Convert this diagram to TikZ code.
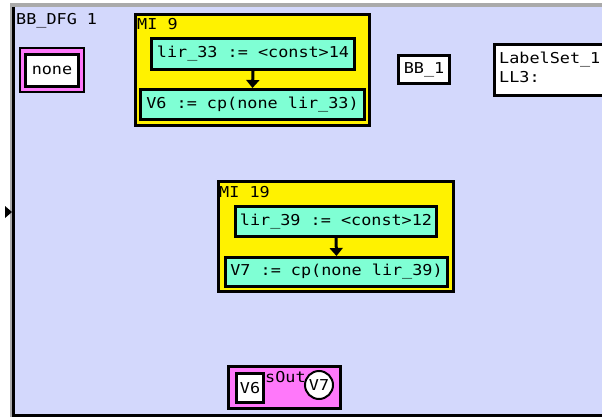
\documentclass[tikz,border=0pt]{standalone}
\usepackage{fontspec}
\setmonofont[FakeStretch=1.12]{DejaVu Sans Mono}
\usetikzlibrary{arrows.meta}
\definecolor{bgblue}{RGB}{211,216,252}
\definecolor{mipink}{RGB}{255,120,250}
\definecolor{aqua}{RGB}{127,255,212}
\definecolor{framegray}{RGB}{170,170,170}
\tikzset{
  txt/.style={font=\ttfamily\fontsize{15}{18}\selectfont, inner sep=0pt},
  mibox/.style={draw=black, fill=yellow, line width=3pt, inner sep=0pt},
  instbox/.style={draw=black, fill=aqua, line width=3pt, inner sep=0pt, font=\ttfamily\fontsize{15}{18}\selectfont},
  whitebox/.style={draw=black, fill=white, line width=3pt, inner sep=0pt, font=\ttfamily\fontsize{15}{18}\selectfont},
  pinkbox/.style={draw=black, fill=mipink, line width=2.5pt, inner sep=0pt},
  dep/.style={line width=3pt, -{Triangle[width=13pt,length=8pt]}}
}
\begin{document}
\begin{tikzpicture}[x=1pt,y=-1pt]
\useasboundingbox (0,0) rectangle (602,417);
\clip (0,0) rectangle (602,417);
% outer frame
\fill[bgblue] (12,5) rectangle (610,415);
\draw[framegray, line width=4pt] (10,5) -- (610,5);
\draw[framegray, line width=2pt] (11,3) -- (11,417);
\draw[black, line width=3pt] (13.5,7) -- (13.5,417);
\draw[black, line width=3pt] (12,415.5) -- (610,415.5);
\fill[black] (5,206) -- (12,212) -- (5,218) -- cycle;
\node[txt, anchor=base west] (title) at (16,25) {BB\_DFG 1};

% top-left pink box
\node[pinkbox, minimum width=64pt, minimum height=44pt] (inpink) at (52,70) {};
\node[whitebox, minimum width=53pt, minimum height=32pt] (none) at (52,70.5) {none};

% MI 9
\node[mibox, minimum width=234pt, minimum height=111pt] (mi9) at (252.5,70) {};
\node[txt, anchor=base west] (mi9lbl) at (137,30) {MI 9};
\node[instbox, minimum width=203pt, minimum height=31pt] (lir33) at (253,54) {lir\_33 := <const>14};
\node[instbox, minimum width=224pt, minimum height=30pt] (v6cp) at (252.5,104.5) {V6 := cp(none lir\_33)};
\draw[dep] (lir33.south) -- (v6cp.north);

% BB_1
\node[whitebox, minimum width=51pt, minimum height=28pt] (bb1) at (424,69.5) {BB\_1};

% LabelSet
\draw[black, fill=white, line width=3pt] (494.5,44.5) rectangle (620,95.5);
\node[txt, anchor=base west] (ls1) at (499,64) {LabelSet\_1};
\node[txt, anchor=base west] (ll3) at (499,83) {LL3:};

% MI 19
\node[mibox, minimum width=235pt, minimum height=110pt] (mi19) at (336,236.5) {};
\node[txt, anchor=base west] (mi19lbl) at (219,197) {MI 19};
\node[instbox, minimum width=201pt, minimum height=30pt] (lir39) at (336,221.5) {lir\_39 := <const>12};
\node[instbox, minimum width=222pt, minimum height=29pt] (v7cp) at (336.5,272) {V7 := cp(none lir\_39)};
\draw[dep] (lir39.south) -- (v7cp.north);

% bottom pink box
\node[pinkbox, line width=3pt, minimum width=112pt, minimum height=42pt] (outpink) at (284.5,387.5) {};
\node[txt, anchor=base west] (outlbl) at (265,382) {sOut};
\node[whitebox, minimum width=27pt, minimum height=29pt] (v6) at (250,388) {V6};
\node[circle, draw=black, fill=white, line width=2pt, inner sep=0pt, minimum size=28pt, font=\ttfamily\fontsize{15}{18}\selectfont] (v7) at (319,385) {V7};
\end{tikzpicture}
\end{document}
